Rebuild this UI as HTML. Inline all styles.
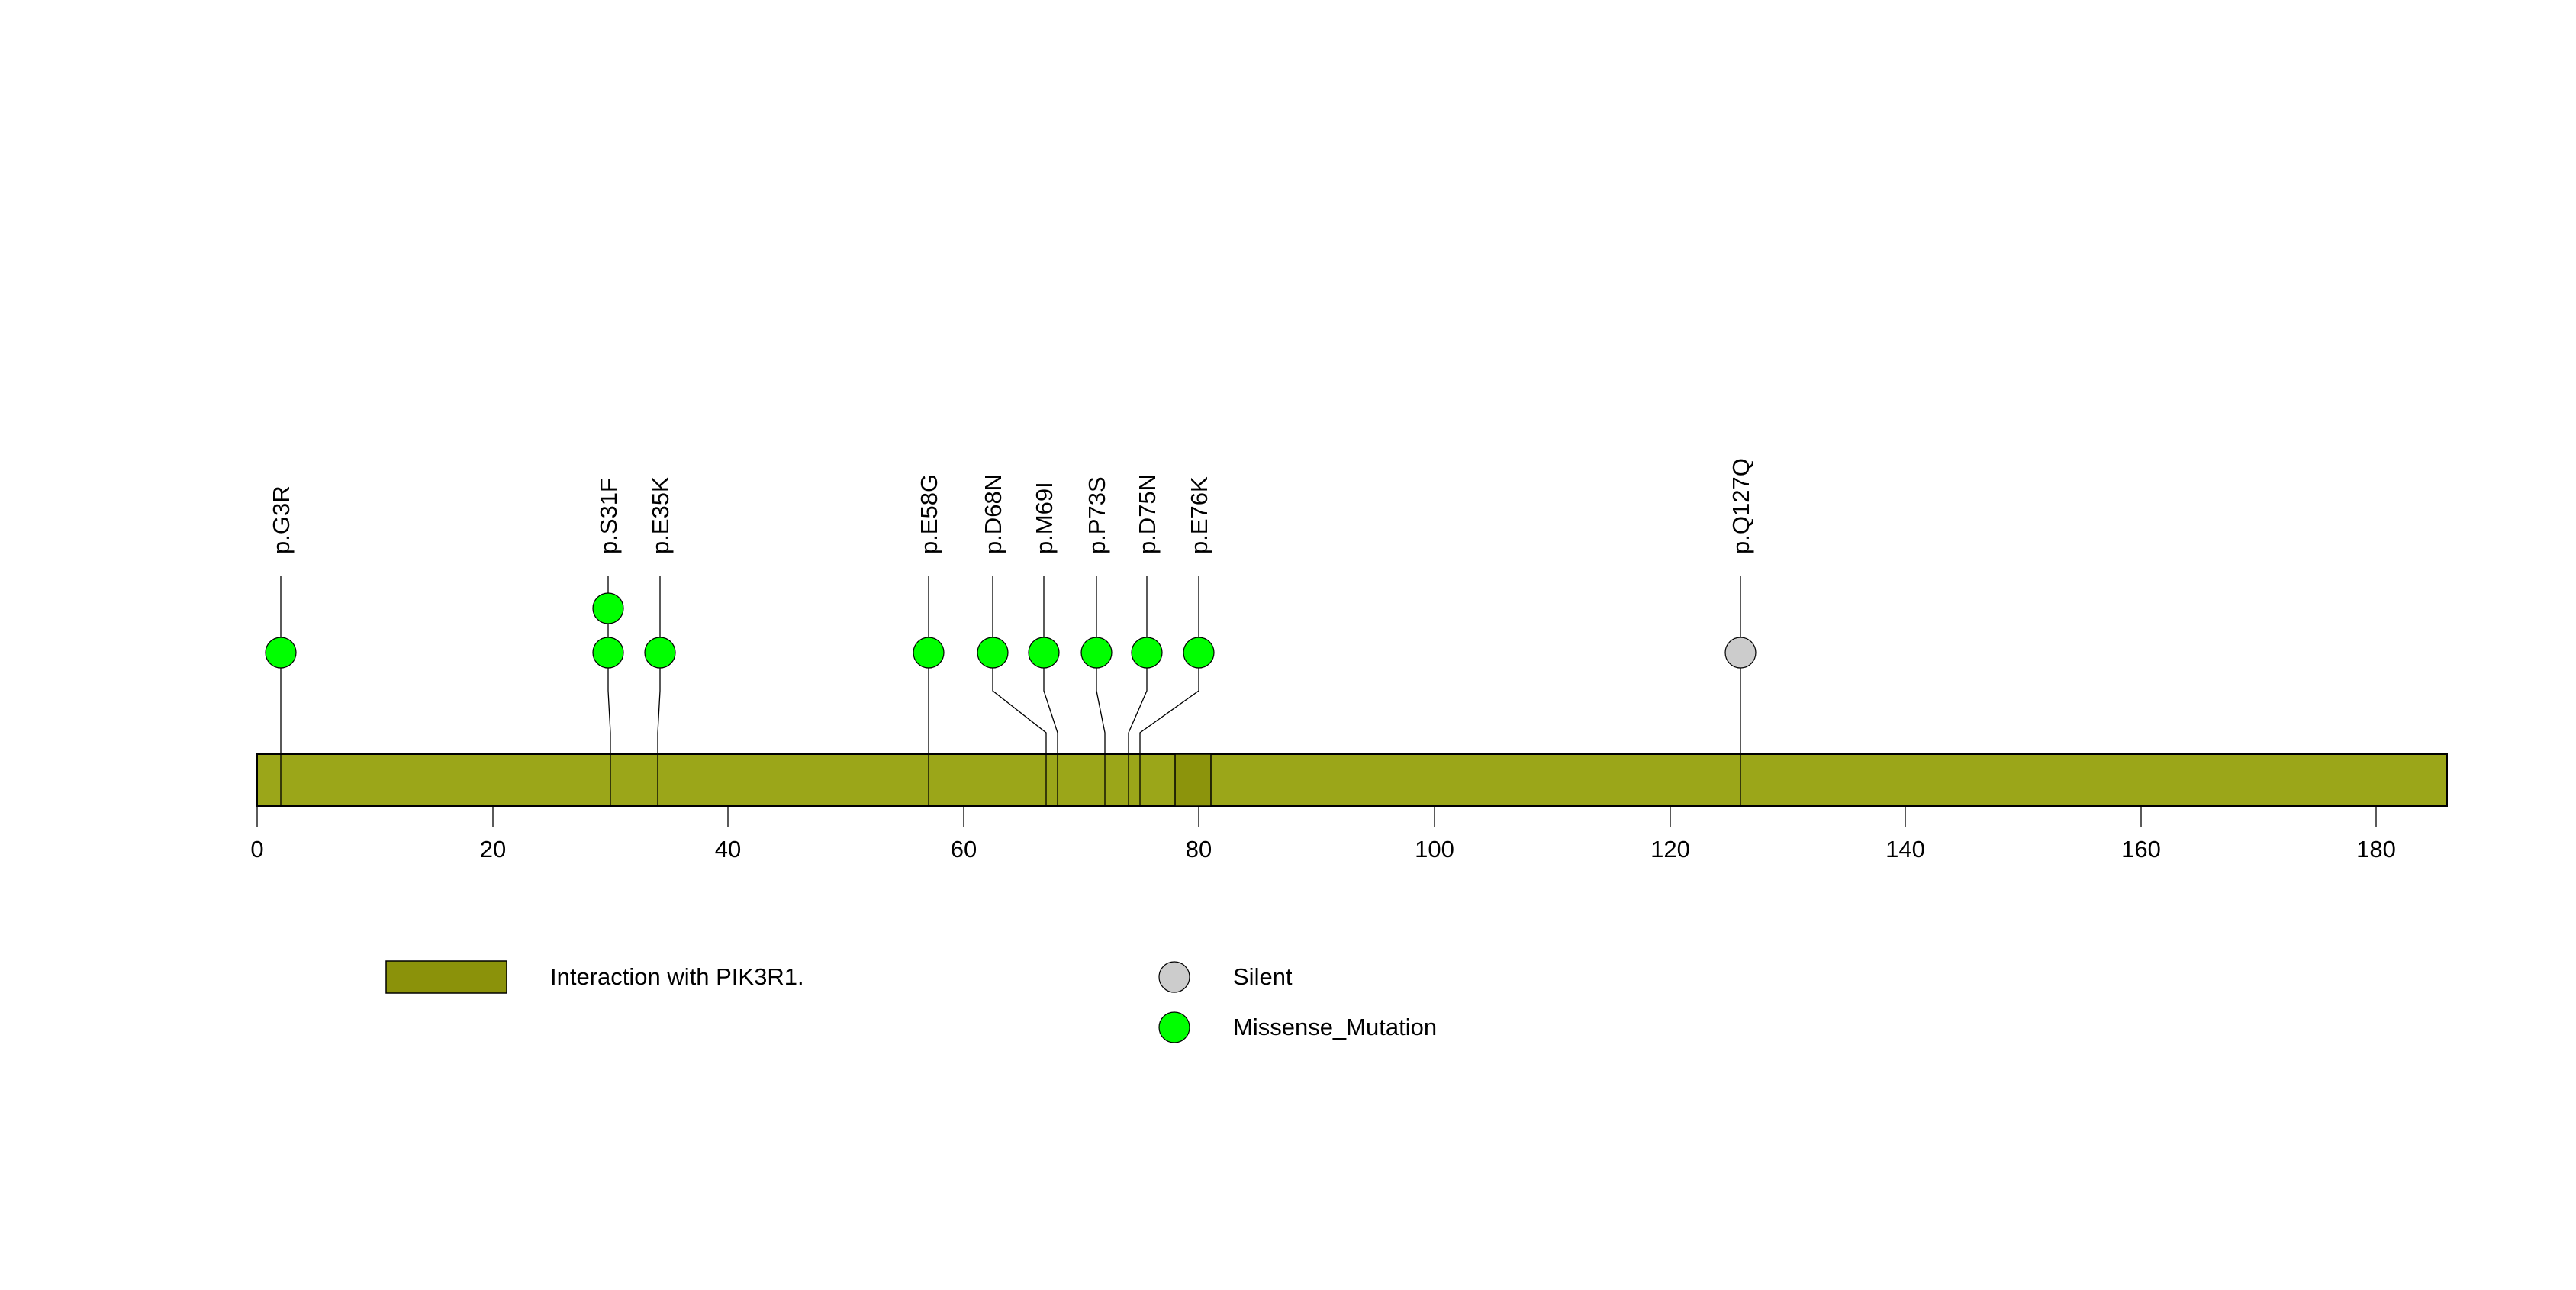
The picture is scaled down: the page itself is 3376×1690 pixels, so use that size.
<!DOCTYPE html>
<html><head><meta charset="utf-8"><style>
html,body{margin:0;padding:0;background:#fff;}
svg{display:block;}
text{font-family:"Liberation Sans",Arial,sans-serif;fill:#000;}
</style></head><body>
<svg width="3376" height="1690" viewBox="0 0 3376 1690" xmlns="http://www.w3.org/2000/svg">
<rect width="3376" height="1690" fill="#fff"/>
<!-- stems and connectors -->
<g stroke="#000" stroke-width="1.3" fill="none">
<polyline points="368,755 368,1056"/>
<polyline points="797,755 797,905 800,960 800,1056"/>
<polyline points="865,755 865,905 862,960 862,1056"/>
<polyline points="1217,755 1217,1056"/>
<polyline points="1301,755 1301,905 1371,960 1371,1056"/>
<polyline points="1368,755 1368,905 1386,960 1386,1056"/>
<polyline points="1437,755 1437,905 1448,960 1448,1056"/>
<polyline points="1503,755 1503,905 1479,960 1479,1056"/>
<polyline points="1571,755 1571,905 1494,960 1494,1056"/>
<polyline points="2281,755 2281,1056"/>
</g>
<!-- bar -->
<rect x="337" y="988" width="2870" height="68" fill="#9BA619" stroke="#000" stroke-width="2"/>
<rect x="1540" y="988" width="47" height="68" fill="#8C940C" stroke="#000" stroke-width="1.5"/>
<g stroke="#000" stroke-width="1.3">
<line x1="368" y1="988" x2="368" y2="1056"/>
<line x1="800" y1="988" x2="800" y2="1056"/>
<line x1="862" y1="988" x2="862" y2="1056"/>
<line x1="1217" y1="988" x2="1217" y2="1056"/>
<line x1="1371" y1="988" x2="1371" y2="1056"/>
<line x1="1386" y1="988" x2="1386" y2="1056"/>
<line x1="1448" y1="988" x2="1448" y2="1056"/>
<line x1="1479" y1="988" x2="1479" y2="1056"/>
<line x1="1494" y1="988" x2="1494" y2="1056"/>
<line x1="2281" y1="988" x2="2281" y2="1056"/>
</g>
<!-- circles -->
<g stroke="#000" stroke-width="1.2">
<circle cx="368" cy="855" r="20" fill="#00FF00"/>
<circle cx="797" cy="797" r="20" fill="#00FF00"/>
<circle cx="797" cy="855" r="20" fill="#00FF00"/>
<circle cx="865" cy="855" r="20" fill="#00FF00"/>
<circle cx="1217" cy="855" r="20" fill="#00FF00"/>
<circle cx="1301" cy="855" r="20" fill="#00FF00"/>
<circle cx="1368" cy="855" r="20" fill="#00FF00"/>
<circle cx="1437" cy="855" r="20" fill="#00FF00"/>
<circle cx="1503" cy="855" r="20" fill="#00FF00"/>
<circle cx="1571" cy="855" r="20" fill="#00FF00"/>
<circle cx="2281" cy="855" r="20" fill="#CCCCCC"/>
</g>
<!-- labels -->
<g font-size="31">
<text transform="translate(379,726) rotate(-90)">p.G3R</text>
<text transform="translate(808,726) rotate(-90)">p.S31F</text>
<text transform="translate(876,726) rotate(-90)">p.E35K</text>
<text transform="translate(1228,726) rotate(-90)">p.E58G</text>
<text transform="translate(1312,726) rotate(-90)">p.D68N</text>
<text transform="translate(1379,726) rotate(-90)">p.M69I</text>
<text transform="translate(1448,726) rotate(-90)">p.P73S</text>
<text transform="translate(1514,726) rotate(-90)">p.D75N</text>
<text transform="translate(1582,726) rotate(-90)">p.E76K</text>
<text transform="translate(2292,726) rotate(-90)">p.Q127Q</text>
</g>
<!-- axis ticks -->
<g stroke="#000" stroke-width="1.3">
<line x1="337" y1="1056" x2="337" y2="1084"/>
<line x1="646" y1="1056" x2="646" y2="1084"/>
<line x1="954" y1="1056" x2="954" y2="1084"/>
<line x1="1263" y1="1056" x2="1263" y2="1084"/>
<line x1="1571" y1="1056" x2="1571" y2="1084"/>
<line x1="1880" y1="1056" x2="1880" y2="1084"/>
<line x1="2189" y1="1056" x2="2189" y2="1084"/>
<line x1="2497" y1="1056" x2="2497" y2="1084"/>
<line x1="2806" y1="1056" x2="2806" y2="1084"/>
<line x1="3114" y1="1056" x2="3114" y2="1084"/>
</g>
<g font-size="31" text-anchor="middle">
<text x="337" y="1123">0</text>
<text x="646" y="1123">20</text>
<text x="954" y="1123">40</text>
<text x="1263" y="1123">60</text>
<text x="1571" y="1123">80</text>
<text x="1880" y="1123">100</text>
<text x="2189" y="1123">120</text>
<text x="2497" y="1123">140</text>
<text x="2806" y="1123">160</text>
<text x="3114" y="1123">180</text>
</g>
<!-- legend -->
<rect x="506" y="1259" width="158" height="42" fill="#8B920A" stroke="#000" stroke-width="1.5"/>
<text x="721" y="1290" font-size="31">Interaction with PIK3R1.</text>
<circle cx="1539" cy="1280" r="20" fill="#CCCCCC" stroke="#000" stroke-width="1.2"/>
<text x="1616" y="1290" font-size="31">Silent</text>
<circle cx="1539" cy="1346" r="20" fill="#00FF00" stroke="#000" stroke-width="1.2"/>
<text x="1616" y="1356" font-size="31">Missense_Mutation</text>
</svg>
</body></html>
